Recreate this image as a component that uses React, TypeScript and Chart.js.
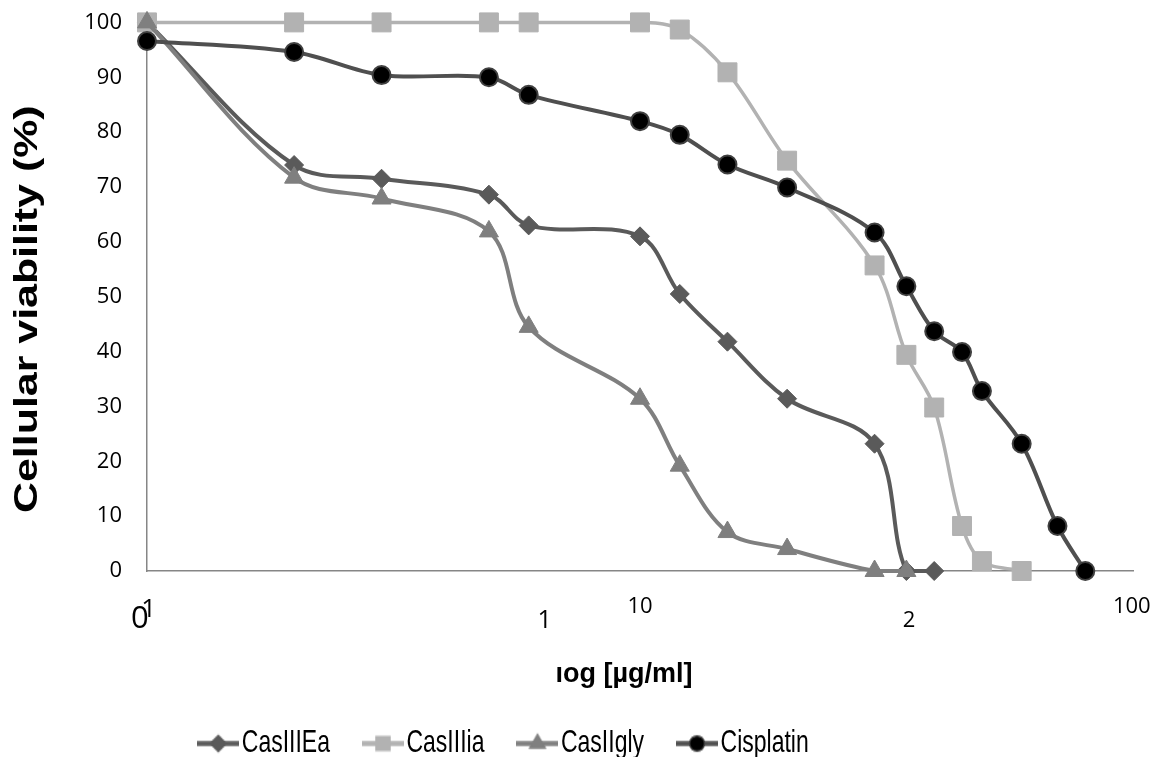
import React, { useEffect, useRef } from "react";
import { Chart, registerables } from "chart.js";

Chart.register(...registerables);

// ---- data (x = position on the log axis, y = viability %) ----
const seriesNames = ["CasIIIEa", "CasIIIia", "CasIIgly", "Cisplatin"];

const xCasIIIEa = [0, 0.37, 0.59, 0.86, 0.96, 1.24, 1.34, 1.46, 1.61, 1.83, 1.91, 1.98];
const yCasIIIEa = [100, 74.0, 71.5, 68.6, 63.0, 61.0, 50.5, 41.8, 31.4, 23.2, 0, 0];

const xCasIIIia = [0, 0.37, 0.59, 0.86, 0.96, 1.24, 1.34, 1.46, 1.61, 1.83, 1.91, 1.98, 2.05, 2.1, 2.2];
const yCasIIIia = [100, 100, 100, 100, 100, 100, 98.7, 90.9, 74.8, 55.7, 39.4, 29.8, 8.2, 1.8, 0];

const xCasIIgly = [0, 0.37, 0.59, 0.86, 0.96, 1.24, 1.34, 1.46, 1.61, 1.83, 1.91];
const yCasIIgly = [100, 71.7, 67.9, 61.9, 44.5, 31.4, 19.2, 7.1, 4.0, 0, 0];

const xCisplatin = [0, 0.37, 0.59, 0.86, 0.96, 1.24, 1.34, 1.46, 1.61, 1.83, 1.91, 1.98, 2.05, 2.1, 2.2, 2.29, 2.36];
const yCisplatin = [96.6, 94.6, 90.4, 90.0, 86.8, 82.0, 79.5, 74.1, 69.9, 61.7, 51.9, 43.7, 39.9, 32.8, 23.2, 8.2, 0];

// free text labels placed under the x axis (text and the axis value they sit at)
const xLabelTexts = ["0", "1", "1", "10", "2", "100"];
const xLabelValues = [-0.018, 0.004, 1.0, 1.24, 1.917, 2.477];

const yTitle = "Cellular viability (%)";
const xTitle = "ıog [µg/ml]";

const toPoints = (xs: number[], ys: number[]) => xs.map((x, i) => ({ x, y: ys[i] }));

const LEGEND_FONT = 23;
const LEGEND_PAD = 41;
const LEGEND_STRETCH = 1.4;

function makeIcon(shape: string, lineColor: string, fill: string, stroke: string) {
  const c = document.createElement("canvas");
  c.width = 42;
  c.height = 22;
  const g = c.getContext("2d") as CanvasRenderingContext2D;
  g.translate(0, 11);
  g.scale(1, 1 / LEGEND_STRETCH);
  g.translate(0, -11);
  g.strokeStyle = lineColor;
  g.lineWidth = 5;
  g.beginPath();
  g.moveTo(0, 11);
  g.lineTo(42, 11);
  g.stroke();
  const cx = 21;
  const cy = 11;
  g.fillStyle = fill;
  g.strokeStyle = stroke;
  g.lineWidth = 1.5;
  g.beginPath();
  if (shape === "rectRot") {
    const r = 8;
    g.moveTo(cx - r, cy);
    g.lineTo(cx, cy - r);
    g.lineTo(cx + r, cy);
    g.lineTo(cx, cy + r);
    g.closePath();
  } else if (shape === "rect") {
    const s = 7;
    g.rect(cx - s, cy - s, 2 * s, 2 * s);
  } else if (shape === "triangle") {
    const r = 9;
    g.moveTo(cx, cy - r);
    g.lineTo(cx + r * 0.866, cy + r / 2);
    g.lineTo(cx - r * 0.866, cy + r / 2);
    g.closePath();
  } else {
    g.arc(cx, cy, 7.5, 0, Math.PI * 2);
  }
  g.fill();
  g.stroke();
  return c;
}

const textPlugin = {
  id: "extraTexts",
  afterDraw(chart: any) {
    const { ctx, chartArea, scales } = chart;
    const xs = scales.x;
    const sizes = [31, 26, 25, 22, 22, 22];
    const dys = [57, 46, 57, 42, 56, 42];
    ctx.save();
    ctx.fillStyle = "#000";
    ctx.textAlign = "center";
    ctx.textBaseline = "alphabetic";
    xLabelTexts.forEach((t, i) => {
      ctx.font = `${sizes[i]}px "Open Sans"`;
      ctx.fillText(t, xs.getPixelForValue(xLabelValues[i]), chartArea.bottom + dys[i]);
    });
    ctx.font = 'bold 27px "Liberation Sans", Arial, sans-serif';
    ctx.fillText(xTitle, 616, 674);
    ctx.translate(20, 505);
    ctx.rotate(-Math.PI / 2);
    ctx.scale(1.3, 1);
    ctx.textAlign = "left";
    ctx.textBaseline = "middle";
    ctx.font = 'bold 33px "Liberation Sans", Arial, sans-serif';
    ctx.fillText(yTitle, 0, 0);
    ctx.restore();
  },
};

const legendShiftPlugin = {
  id: "legendShift",
  afterLayout(chart: any) {
    const l = chart.legend;
    if (!l) return;
    l.left -= 63;
    l.right -= 63;
    if (!l.__stretched) {
      l.__stretched = true;
      const orig = l.draw;
      l.draw = function (...args: any[]) {
        const ctx = this.ctx;
        const cy = this.top + LEGEND_PAD + LEGEND_FONT / 2;
        ctx.save();
        ctx.translate(0, cy);
        ctx.scale(1, LEGEND_STRETCH);
        ctx.translate(0, -cy);
        orig.apply(this, args);
        ctx.restore();
      };
    }
  },
};

export default function App() {
  const ref = useRef<HTMLCanvasElement | null>(null);

  useEffect(() => {
    if (!ref.current) return;
    const icons = [
      makeIcon("rectRot", "#5a5a5a", "#5a5a5a", "#5a5a5a"),
      makeIcon("rect", "#b2b2b2", "#b2b2b2", "#b2b2b2"),
      makeIcon("triangle", "#7f7f7f", "#7f7f7f", "#7f7f7f"),
      makeIcon("circle", "#4f4f4f", "#000000", "#404040"),
    ];
    const chart = new Chart(ref.current, {
      type: "line",
      data: {
        datasets: [
          {
            label: seriesNames[0],
            data: toPoints(xCasIIIEa, yCasIIIEa),
            borderColor: "#5a5a5a",
            backgroundColor: "#5a5a5a",
            pointBackgroundColor: "#5a5a5a",
            pointBorderColor: "#5a5a5a",
            pointStyle: "rectRot",
            pointRadius: 9.5,
            pointBorderWidth: 1,
            borderWidth: 4,
            tension: 0.35,
            order: 3,
            clip: false,
          },
          {
            label: seriesNames[1],
            data: toPoints(xCasIIIia, yCasIIIia),
            borderColor: "#b2b2b2",
            backgroundColor: "#b2b2b2",
            pointBackgroundColor: "#b2b2b2",
            pointBorderColor: "#b2b2b2",
            pointStyle: "rect",
            pointRadius: 13.4,
            pointBorderWidth: 1,
            borderWidth: 3.5,
            tension: 0.35,
            order: 2,
            clip: false,
          },
          {
            label: seriesNames[2],
            data: toPoints(xCasIIgly, yCasIIgly),
            borderColor: "#7f7f7f",
            backgroundColor: "#7f7f7f",
            pointBackgroundColor: "#7f7f7f",
            pointBorderColor: "#7f7f7f",
            pointStyle: "triangle",
            pointRadius: 11,
            pointBorderWidth: 1,
            borderWidth: 4,
            tension: 0.35,
            order: 1,
            clip: false,
          },
          {
            label: seriesNames[3],
            data: toPoints(xCisplatin, yCisplatin),
            borderColor: "#4f4f4f",
            backgroundColor: "#000000",
            pointBackgroundColor: "#000000",
            pointBorderColor: "#404040",
            pointStyle: "circle",
            pointRadius: 9,
            pointBorderWidth: 2,
            borderWidth: 4,
            tension: 0.35,
            order: 0,
            clip: false,
          },
        ],
      },
      options: {
        animation: false,
        responsive: true,
        maintainAspectRatio: false,
        layout: { padding: { top: 12, right: 22, bottom: -8, left: 0 } },
        scales: {
          x: {
            type: "linear",
            min: 0,
            max: 2.48,
            grid: { display: false, drawTicks: false },
            border: { display: true, color: "#868686", width: 1.5 },
            ticks: { display: false },
            afterFit: (s: any) => {
              s.height = 120;
              s.paddingLeft = 0;
              s.paddingRight = 0;
            },
          },
          y: {
            min: 0,
            max: 100,
            grid: { display: false, drawTicks: false },
            border: { display: true, color: "#868686", width: 1.5 },
            ticks: {
              stepSize: 10,
              padding: 25,
              color: "#000",
              font: { family: '"Open Sans"', size: 22, lineHeight: 1 },
            },
            afterFit: (s: any) => {
              s.width = 139;
              s.paddingTop = 0;
              s.paddingBottom = 0;
            },
          },
        },
        plugins: {
          tooltip: { enabled: false },
          legend: {
            position: "bottom",
            labels: {
              usePointStyle: true,
              pointStyleWidth: 24,
              padding: LEGEND_PAD,
              color: "#000",
              font: { family: '"Liberation Sans", Arial, sans-serif', size: LEGEND_FONT },
              generateLabels: (c: any) => {
                const items = (Chart.defaults.plugins.legend.labels as any).generateLabels(c);
                return items
                  .slice()
                  .sort((a: any, b: any) => a.datasetIndex - b.datasetIndex)
                  .map((it: any) => ({ ...it, pointStyle: icons[it.datasetIndex] }));
              },
            },
          },
        },
      },
      plugins: [textPlugin, legendShiftPlugin],
    } as any);
    return () => chart.destroy();
  }, []);

  return (
    <div style={{ width: 1147, height: 749, position: "relative" }}>
      <canvas ref={ref} />
    </div>
  );
}
